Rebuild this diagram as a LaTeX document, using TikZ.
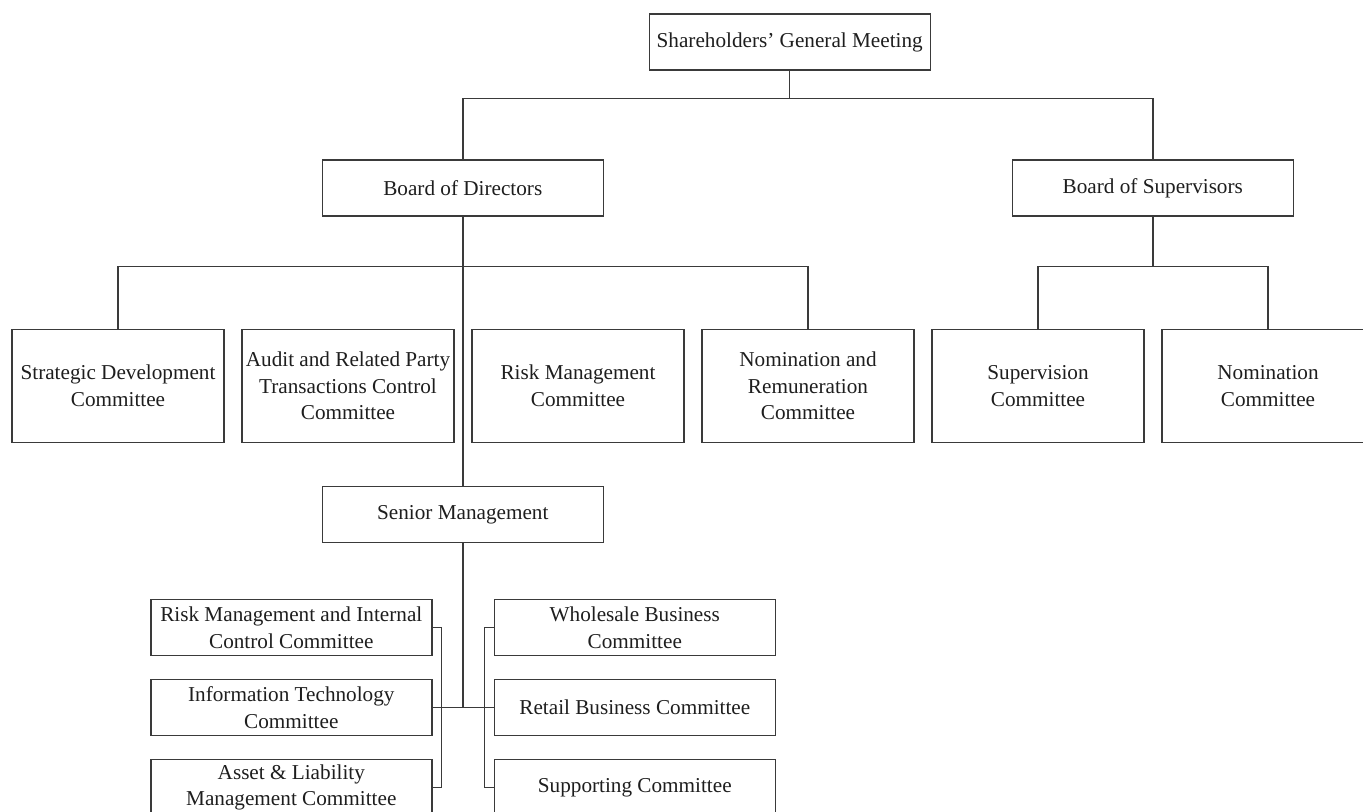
\documentclass[tikz,border=0pt]{standalone}
\usepackage{fontspec}
\setmainfont{Liberation Serif}
\begin{document}
\begin{tikzpicture}[x=0.75pt,y=-0.75pt,
  every node/.style={inner sep=0pt, outer sep=0pt},
  unit/.style={draw=linegray, line width=1.05pt, align=center, text=textgray,
    font=\fontsize{15.9}{20}\selectfont},
  widebox/.style={unit, minimum width=210.75pt, minimum height=42pt},
  tallbox/.style={unit, minimum width=159pt, minimum height=85pt},
  link/.style={draw=linegray, line width=1.05pt}]
\definecolor{linegray}{HTML}{3A3A3A}
\definecolor{textgray}{HTML}{1E1E1E}
\clip (0,0) rectangle (1363,811);

% top level
\node[widebox] (sgm) at (789.7,42) {Shareholders' General Meeting};
\node[widebox] (bod) at (462.8,188) {Board of Directors};
\node[widebox] (bos) at (1152.8,188) {Board of Supervisors};

% board committees
\node[tallbox] (c1) at (118,386) {Strategic Development\\Committee};
\node[tallbox] (c2) at (348,386) {Audit and Related Party\\Transactions Control\\Committee};
\node[tallbox] (c3) at (578,386) {Risk Management\\Committee};
\node[tallbox] (c4) at (808,386) {Nomination and\\Remuneration\\Committee};
\node[tallbox] (c5) at (1038,386) {Supervision\\Committee};
\node[tallbox] (c6) at (1268,386) {Nomination\\Committee};

% management
\node[widebox] (sm) at (462.8,514.7) {Senior Management};
\node[widebox] (l1) at (291.3,627.5) {Risk Management and Internal\\Control Committee};
\node[widebox] (l2) at (291.3,707.5) {Information Technology\\Committee};
\node[widebox] (l3) at (291.3,787.5) {Asset \& Liability\\Management Committee};
\node[widebox] (r1) at (634.8,627.5) {Wholesale Business\\Committee};
\node[widebox] (r2) at (634.8,707.5) {Retail Business Committee};
\node[widebox] (r3) at (634.8,787.5) {Supporting Committee};

% junction points
\coordinate (tj) at (789.7,98.3);
\coordinate (bj) at (462.8,266.7);
\coordinate (sj) at (1152.8,266.7);
\coordinate (mj) at (462.8,707.5);
\coordinate (lb) at (441.7,707.5);
\coordinate (rb) at (484.3,707.5);

% connectors
\draw[link] (sgm.south) -- (tj);
\draw[link] (bod.north) |- (tj) -| (bos.north);
\draw[link] (bod.south) -- (sm.north);
\draw[link] (c1.north) |- (bj) -| (c4.north);
\draw[link] (bos.south) -- (sj);
\draw[link] (c5.north) |- (sj) -| (c6.north);
\draw[link] (sm.south) -- (mj);
\draw[link] (l2.east) -- (r2.west);
\draw[link] (l1.east) -| (lb) |- (l3.east);
\draw[link] (r1.west) -| (rb) |- (r3.west);
\end{tikzpicture}
\end{document}
